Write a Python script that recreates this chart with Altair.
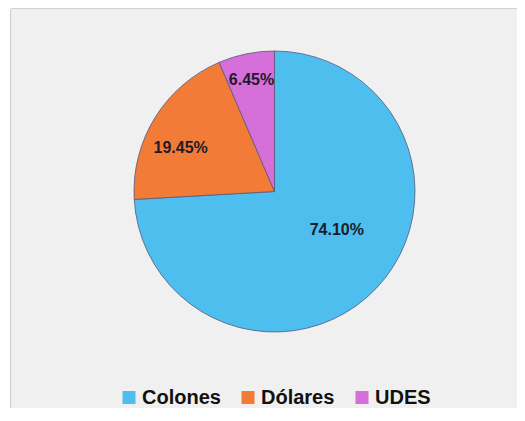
import altair as alt
import pandas as pd

categorias = ["Colones", "Dólares", "UDES"]
valores = [74.10, 19.45, 6.45]
etiquetas = ["74.10%", "19.45%", "6.45%"]
orden = [0, 1, 2]
colores = ["#4DBEEE", "#F27B37", "#D66FD9"]
titulo = "Mayo 2023"

df = pd.DataFrame({"categoria": categorias, "valor": valores,
                   "etiqueta": etiquetas, "orden": orden})

W, H = 509, 400
CX, CY, R = 266.5, 183.5, 140.5
FONT = "Liberation Sans"

base = alt.Chart(df)

marco = base.mark_rect(fill="#F0F0F0", stroke="#D2D2D2", strokeWidth=1.2,
                       cornerRadius=2).encode(
    x=alt.value(2.5), x2=alt.value(W + 20), y=alt.value(0.5), y2=alt.value(H + 20)
).transform_filter("datum.orden == 0")

pie = base.mark_arc(x=CX, y=CY, outerRadius=R, stroke="#55597a", strokeWidth=0.8).encode(
    theta=alt.Theta("valor:Q", stack=True),
    color=alt.Color(
        "categoria:N",
        scale=alt.Scale(domain=categorias, range=colores),
        legend=alt.Legend(
            title=None, orient="none", direction="horizontal",
            legendX=111, legendY=379.5,
            symbolType="square", symbolSize=170, symbolStrokeWidth=0,
            symbolOpacity=1,
            labelFont=FONT, labelFontSize=20, labelFontWeight="bold",
            labelColor="#111111", labelOffset=3, columnPadding=17,
        ),
    ),
    order=alt.Order("orden:Q"),
)

# label placement tweaks (Excel "best fit"-like positions)
ajuste = "{'Colones': -11.4, 'Dólares': -6.8, 'UDES': 0}[datum.categoria]"
radio = "{'Colones': 73.5, 'Dólares': 103.5, 'UDES': 114.0}[datum.categoria]"

textos = base.transform_window(
    cum="sum(valor)", sort=[alt.SortField("orden")], frame=[None, 0]
).transform_joinaggregate(
    total="sum(valor)"
).transform_calculate(
    ang=f"((datum.cum - datum.valor / 2) / datum.total) * 2 * PI + ({ajuste}) * PI / 180",
    r=radio,
).mark_text(
    x=CX, y=CY, font=FONT, fontSize=16, fontWeight="bold",
    color="#1c1c2a", align="center", baseline="middle",
).encode(
    theta=alt.Theta("ang:Q", scale=None),
    radius=alt.Radius("r:Q", scale=None),
    text="etiqueta:N",
)

chart = alt.layer(marco, pie, textos).properties(
    width=W, height=H,
    autosize=alt.AutoSizeParams(type="none"),
    padding={"left": 0, "top": 0, "right": 0, "bottom": 0},
    background="white",
    title=alt.Title(titulo, font=FONT, fontSize=18, fontWeight="bold",
                    color="#111111", anchor="middle", offset=2),
).configure_view(
    stroke=None
)

chart.save("out.html", embed_options={"renderer": "svg", "actions": False})
